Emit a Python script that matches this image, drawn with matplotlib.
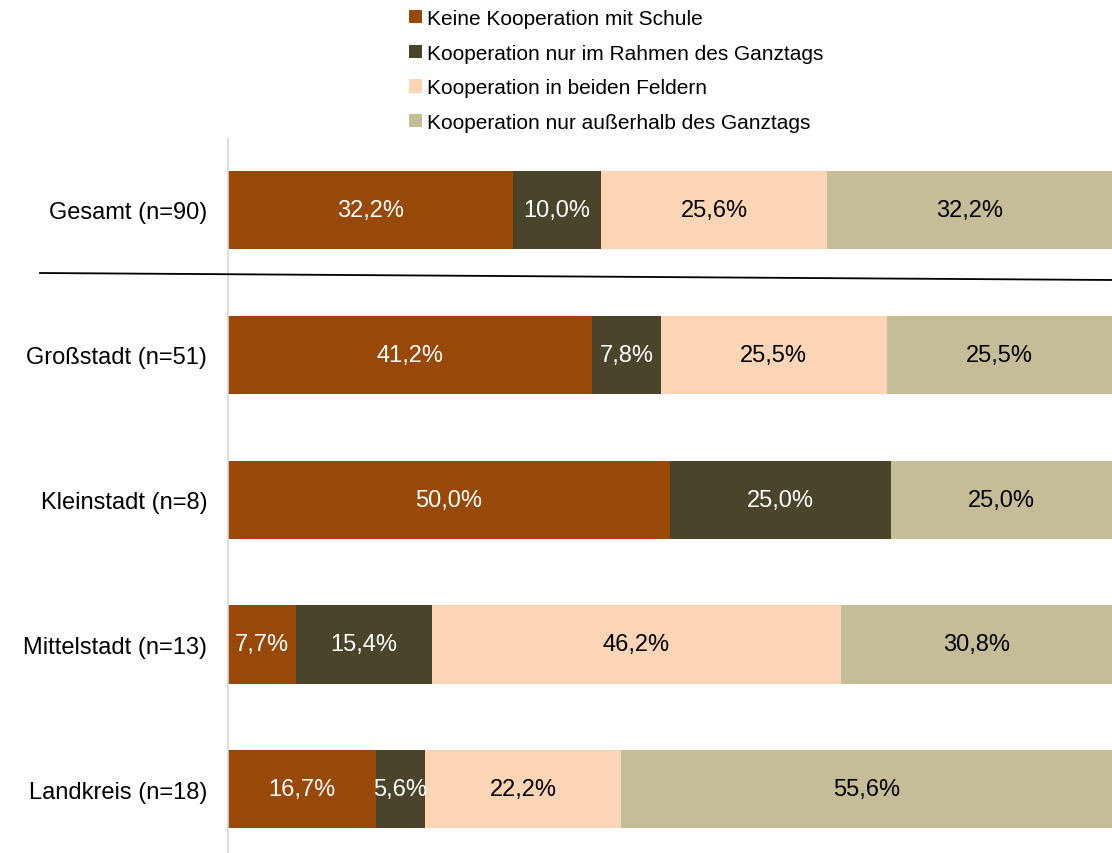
import numpy as np
import matplotlib.pyplot as plt
from matplotlib import font_manager
from matplotlib.patches import Patch
from matplotlib.lines import Line2D

# Daten
kategorien = ["Gesamt (n=90)", "Großstadt (n=51)", "Kleinstadt (n=8)",
              "Mittelstadt (n=13)", "Landkreis (n=18)"]
serien = ["Keine Kooperation mit Schule",
          "Kooperation nur im Rahmen des Ganztags",
          "Kooperation in beiden Feldern",
          "Kooperation nur außerhalb des Ganztags"]
keine = [32.2, 41.2, 50.0, 7.7, 16.7]
nur_ganztag = [10.0, 7.8, 25.0, 15.4, 5.6]
beide = [25.6, 25.5, 0.0, 46.2, 22.2]
nur_ausserhalb = [32.2, 25.5, 25.0, 30.8, 55.6]

farben = ["#984807", "#4A452A", "#FBD5B5", "#C4BD97"]
textfarben = ["white", "white", "black", "black"]

namen = {f.name for f in font_manager.fontManager.ttflist}
if "Liberation Sans Narrow" in namen:
    plt.rcParams["font.family"] = ["Liberation Sans Narrow", "DejaVu Sans"]
else:
    plt.rcParams["font.family"] = ["Liberation Sans", "DejaVu Sans"]

fig = plt.figure(figsize=(11.12, 8.54), dpi=100)
ax = fig.add_axes([228 / 1112, 0, 1 - 228 / 1112, 1 - 140 / 854])

y = np.arange(len(kategorien))
links = np.zeros(len(kategorien))
for werte, farbe, tf in zip([keine, nur_ganztag, beide, nur_ausserhalb], farben, textfarben):
    werte = np.array(werte)
    ax.barh(y, werte, left=links, height=0.54, color=farbe, edgecolor="none")
    for yi, l, w in zip(y, links, werte):
        if w > 0:
            ax.text(l + w / 2, yi, f"{w:.1f}%".replace(".", ","), ha="center", va="center",
                    color=tf, fontsize=17)
    links = links + werte

ax.set_xlim(0, 100)
ax.set_ylim(4.44, -0.49)
ax.set_yticks(y)
ax.set_yticklabels(kategorien, fontsize=17)
ax.tick_params(axis="y", length=0, pad=15)
ax.set_xticks([])
for s in ["top", "right", "bottom"]:
    ax.spines[s].set_visible(False)
ax.spines["left"].set_color("#D9D9D9")
ax.spines["left"].set_linewidth(1.2)

# Trennlinie unter Gesamt
fig.add_artist(Line2D([40 / 1112, 1.0], [1 - 274 / 854, 1 - 281 / 854],
                      transform=fig.transFigure, color="black", linewidth=1.3))

handles = [Patch(facecolor=f, edgecolor="none") for f in farben]
fig.legend(handles, serien, loc="upper left", bbox_to_anchor=(409 / 1112, 1 - 10 / 854),
           frameon=False, fontsize=15, handlelength=0.6, handleheight=0.6,
           handletextpad=0.25, labelspacing=0.75, borderpad=0, borderaxespad=0)

fig.savefig("out.png", dpi=100)
